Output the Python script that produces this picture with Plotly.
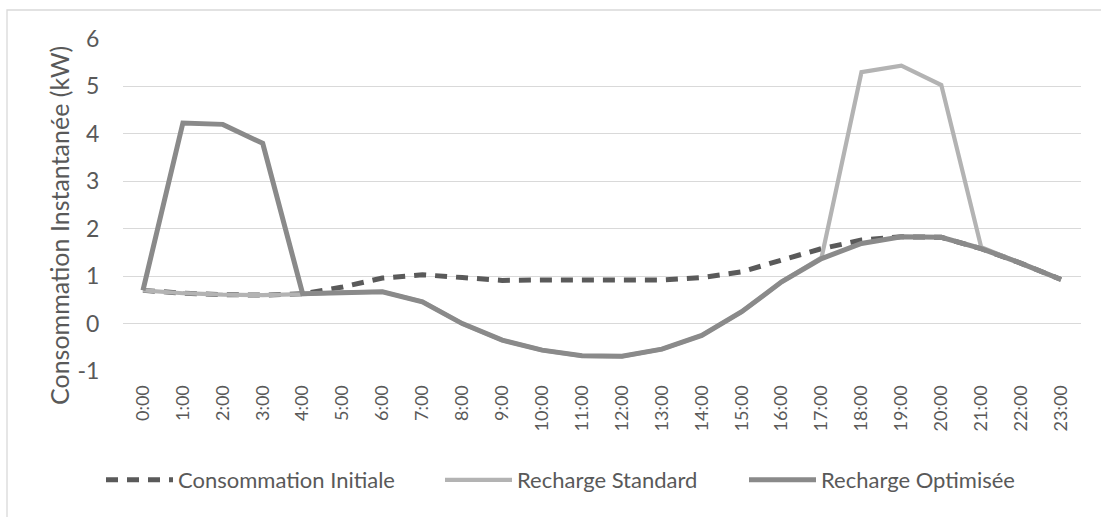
import plotly.graph_objects as go

hours = [f"{h}:00" for h in range(24)]

initiale = [0.70, 0.64, 0.61, 0.60, 0.63, 0.77, 0.96, 1.03, 0.97, 0.91, 0.92, 0.92,
            0.92, 0.92, 0.97, 1.09, 1.34, 1.58, 1.76, 1.83, 1.82, 1.58, 1.27, 0.93]
standard = [0.70, 0.64, 0.61, 0.60, 0.62, 0.66, 0.67, 0.46, 0.00, -0.35, -0.56, -0.68,
            -0.69, -0.54, -0.25, 0.25, 0.88, 1.39, 5.30, 5.44, 5.03, 1.61, 1.27, 0.93]
optimisee = [0.70, 4.23, 4.20, 3.80, 0.63, 0.66, 0.67, 0.46, 0.00, -0.35, -0.56, -0.68,
             -0.69, -0.54, -0.25, 0.25, 0.88, 1.37, 1.69, 1.83, 1.82, 1.58, 1.27, 0.93]

y_ticks = [-1, 0, 1, 2, 3, 4, 5, 6]
y_tick_labels = ["-1", "0", "1", "2", "3", "4", "5", "6"]
y_title = "Consommation Instantanée (kW)"

FONT = "Lato"
TXT = "#595959"

fig = go.Figure()
fig.add_trace(go.Scatter(x=hours, y=initiale, mode="lines", name="Consommation Initiale",
                         legend="legend",
                         line=dict(color="#5a5a5a", width=5, dash="12px,9px")))
fig.add_trace(go.Scatter(x=hours, y=standard, mode="lines", name="Recharge Standard",
                         legend="legend2",
                         line=dict(color="#b3b3b3", width=4.2)))
fig.add_trace(go.Scatter(x=hours, y=optimisee, mode="lines", name="Recharge Optimisée",
                         legend="legend3",
                         line=dict(color="#8a8a8a", width=5)))

L, R, T, B = 123, 20, 39, 146
W, H = 1101, 517
pw, ph = W - L - R, H - T - B

def px(x):
    return (x - L) / pw

def py(y):
    return (H - B - y) / ph

def leg(xpix):
    return dict(orientation="h", x=px(xpix), xanchor="left", y=py(480), yanchor="middle",
                font=dict(size=22, color=TXT), itemwidth=67, bgcolor="rgba(0,0,0,0)")

fig.update_layout(
    width=W, height=H,
    margin=dict(l=L, r=R, t=T, b=B, autoexpand=False),
    paper_bgcolor="white", plot_bgcolor="white",
    font=dict(family=FONT, color=TXT),
    showlegend=True,
    legend=leg(101), legend2=leg(440), legend3=leg(744),
    xaxis=dict(type="category", range=[-0.5, 23.5], tickangle=-90, showgrid=False,
               zeroline=False, showline=False, ticks="outside", ticklen=6,
               tickcolor="rgba(0,0,0,0)", tickfont=dict(size=18, color=TXT)),
    yaxis=dict(range=[-1, 6], tickvals=y_ticks, ticktext=y_tick_labels, showgrid=True,
               gridcolor="#d9d9d9", gridwidth=1.3, zeroline=False, showline=False,
               ticks="outside", ticklen=18, tickcolor="rgba(0,0,0,0)",
               tickfont=dict(size=23, color=TXT)),
    annotations=[dict(text=y_title, xref="paper", yref="paper", x=px(59), y=py(226),
                      xanchor="center", yanchor="middle", textangle=-90, showarrow=False,
                      font=dict(size=25, color=TXT))],
    shapes=[dict(type="rect", xref="paper", yref="paper",
                 x0=px(7), x1=px(1110), y0=py(530), y1=py(10),
                 line=dict(color="#d9d9d9", width=1.3), layer="below")],
)

fig.write_html("out.html", config={"displayModeBar": False},
               post_script="document.body.style.margin='0';")
